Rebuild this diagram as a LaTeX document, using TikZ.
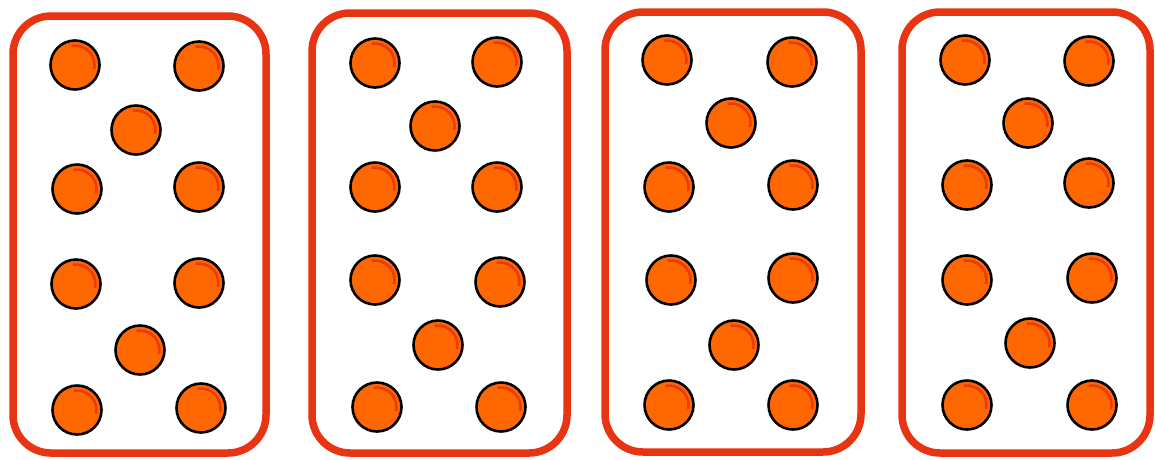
\documentclass[tikz,border=0pt]{standalone}
\definecolor{cardred}{RGB}{232,52,18}
\definecolor{dotorange}{RGB}{255,104,0}
\definecolor{dotshade}{RGB}{236,58,10}
\tikzset{
  card/.style={draw=cardred, line width=7.5pt, rounded corners=38pt},
  dot/.style={circle, draw=black, line width=2.6pt, fill=dotorange, minimum size=49pt, inner sep=0pt},
  shade/.style={draw=dotshade, line width=2.6pt}
}
\newcommand{\mydot}[3]{%
  \node[dot] (#1) at (#2,#3) {};
  \draw[shade] (#1.center) ++(100:19.5pt) arc[start angle=100, end angle=-12, radius=19.5pt];
}
\begin{document}
\begin{tikzpicture}[x=1pt,y=-1pt]
\useasboundingbox (0,0) rectangle (1155,459);
% cards
\draw[card] (13,16) rectangle (266,453);
\draw[card] (312,13) rectangle (567,453);
\draw[card] (605,12) rectangle (861,452);
\draw[card] (902,12) rectangle (1150,453);
% card 1
\mydot{a1}{75}{65}\mydot{a2}{199}{66}\mydot{a3}{136}{130}
\mydot{a4}{77}{189}\mydot{a5}{199}{187}
\mydot{a6}{76}{284}\mydot{a7}{199}{283}\mydot{a8}{140}{350}
\mydot{a9}{77}{410}\mydot{a10}{201}{408}
% card 2
\mydot{b1}{375}{63}\mydot{b2}{497}{62}\mydot{b3}{435}{126}
\mydot{b4}{375}{187}\mydot{b5}{497}{187}
\mydot{b6}{375}{280}\mydot{b7}{500}{282}\mydot{b8}{438}{345}
\mydot{b9}{377}{407}\mydot{b10}{501}{407}
% card 3
\mydot{c1}{667}{60}\mydot{c2}{792}{62}\mydot{c3}{731}{123}
\mydot{c4}{669}{187}\mydot{c5}{793}{185}
\mydot{c6}{671}{280}\mydot{c7}{793}{278}\mydot{c8}{734}{345}
\mydot{c9}{669}{405}\mydot{c10}{793}{405}
% card 4
\mydot{d1}{965}{60}\mydot{d2}{1089}{61}\mydot{d3}{1028}{123}
\mydot{d4}{967}{185}\mydot{d5}{1089}{183}
\mydot{d6}{967}{280}\mydot{d7}{1092}{278}\mydot{d8}{1030}{343}
\mydot{d9}{967}{405}\mydot{d10}{1092}{405}
\end{tikzpicture}
\end{document}
